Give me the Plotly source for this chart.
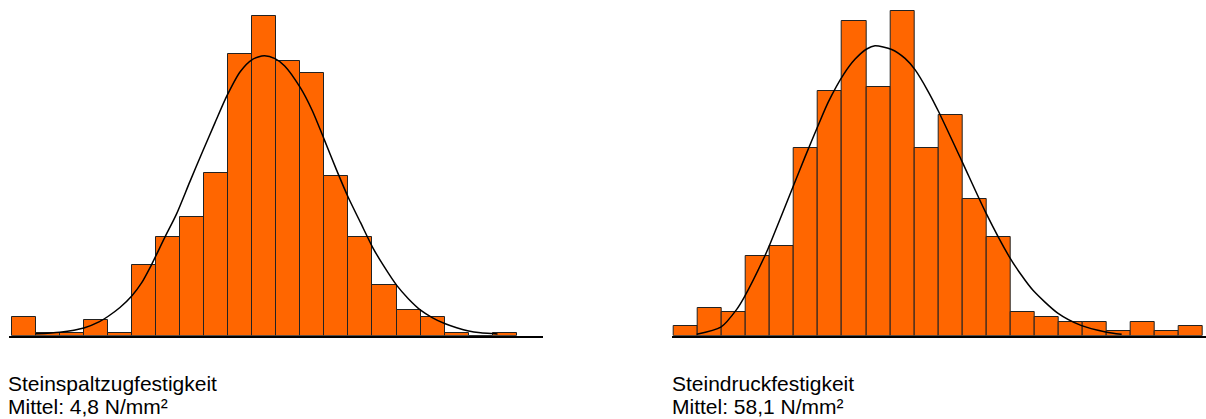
import plotly.graph_objects as go

# Steinspaltzugfestigkeit: histogram (bin width 0.2 N/mm²) and fitted density curve
spalt_bin_start = 2.7
spalt_bin_width = 0.2
spalt_counts = [6, 1, 1, 5, 1, 22, 31, 37, 51, 88, 100, 86, 82, 50, 31, 16, 8, 6, 1, 0, 1]
spalt_curve_x = [2.9, 3.1, 3.3, 3.43, 3.5, 3.6, 3.7, 3.78, 3.86, 3.97, 4.07, 4.18, 4.29,
                 4.39, 4.49, 4.6, 4.7, 4.8, 4.89, 4.97, 5.1, 5.2, 5.3, 5.4, 5.5, 5.6,
                 5.7, 5.8, 5.9, 6.0, 6.1, 6.2, 6.3, 6.4, 6.5, 6.6, 6.7, 6.74]
spalt_curve_y = [0.6, 1.1, 2.4, 4.4, 6.0, 8.8, 12.5, 16.5, 22.0, 30.5, 38.0, 48.0, 57.8,
                 66.5, 75.0, 82.5, 86.3, 87.5, 86.6, 84.3, 77.5, 70.3, 61.2, 51.9, 43.1,
                 35.4, 27.7, 21.4, 15.8, 11.5, 8.0, 5.6, 3.8, 2.5, 1.5, 0.95, 0.65, 0.55]
spalt_title = "Steinspaltzugfestigkeit"
spalt_mean = "Mittel: 4,8 N/mm²"

# Steindruckfestigkeit: histogram (bin width 2 N/mm²) and fitted density curve
druck_bin_start = 41.5
druck_bin_width = 2.0
druck_counts = [2, 6, 5, 17, 19, 40, 52, 67, 53, 69, 40, 47, 29, 21, 5, 4, 3, 3, 1, 3, 1, 2]
druck_curve_x = [43.39, 45.40, 46.72, 47.35, 49.07, 49.51, 51.55, 52.40, 53.54, 54.34,
                 55.62, 56.56, 57.54, 58.23, 59.62, 60.73, 61.56, 62.67, 63.50, 65.45,
                 67.41, 69.36, 70.44, 71.40, 73.44, 75.37, 77.43, 78.76]
druck_curve_y = [0.3, 1.8, 5.6, 8.2, 17.0, 19.6, 32.6, 38.0, 45.0, 49.7, 55.6, 58.8, 61.0,
                 61.7, 60.9, 59.0, 56.6, 51.9, 47.8, 37.2, 26.4, 17.0, 12.8, 9.6, 4.8,
                 2.2, 0.8, 0.3]
druck_title = "Steindruckfestigkeit"
druck_mean = "Mittel: 58,1 N/mm²"

BAR_COLOR = "#FF6600"
EDGE_COLOR = "#222222"
FONT = "Arial, Liberation Sans, Helvetica, sans-serif"


def centers(start, width, n):
    return [start + width * (i + 0.5) for i in range(n)]


fig = go.Figure()

fig.add_trace(go.Bar(
    x=centers(spalt_bin_start, spalt_bin_width, len(spalt_counts)),
    y=spalt_counts, width=spalt_bin_width,
    marker=dict(color=BAR_COLOR, line=dict(color=EDGE_COLOR, width=1)),
    xaxis="x", yaxis="y", showlegend=False, hoverinfo="skip",
))
fig.add_trace(go.Scatter(
    x=spalt_curve_x, y=spalt_curve_y, mode="lines",
    line=dict(color="black", width=1.5, shape="spline", smoothing=0.7),
    xaxis="x", yaxis="y", showlegend=False, hoverinfo="skip",
))
fig.add_trace(go.Bar(
    x=centers(druck_bin_start, druck_bin_width, len(druck_counts)),
    y=druck_counts, width=druck_bin_width,
    marker=dict(color=BAR_COLOR, line=dict(color=EDGE_COLOR, width=1)),
    xaxis="x2", yaxis="y2", showlegend=False, hoverinfo="skip",
))
fig.add_trace(go.Scatter(
    x=druck_curve_x, y=druck_curve_y, mode="lines",
    line=dict(color="black", width=1.5, shape="spline", smoothing=0.7),
    xaxis="x2", yaxis="y2", showlegend=False, hoverinfo="skip",
))

W, H = 1206, 419
base_frac = (H - 335.7) / H

xaxis_common = dict(showgrid=False, zeroline=False, showticklabels=False, ticks="",
                    showline=True, linecolor="black", linewidth=2, fixedrange=True)
yaxis_common = dict(visible=False, showgrid=False, zeroline=False, fixedrange=True)

fig.update_layout(
    width=W, height=H,
    margin=dict(l=0, r=0, t=0, b=0),
    paper_bgcolor="white", plot_bgcolor="white",
    bargap=0,
    xaxis=dict(domain=[9 / W, 543 / W], range=[2.6775, 7.118], **xaxis_common),
    yaxis=dict(domain=[base_frac, 1.0], range=[0, 335.7 / 3.2], anchor="x", **yaxis_common),
    xaxis2=dict(domain=[671.7 / W, 1.0], range=[41.31, 85.78], anchor="y2", **xaxis_common),
    yaxis2=dict(domain=[base_frac, 1.0], range=[0, 335.7 / 4.7], anchor="x2", **yaxis_common),
    font=dict(family=FONT, color="black"),
)

labels = [
    (6 / W, 383.3, spalt_title),
    (6 / W, 406.2, spalt_mean),
    (670 / W, 383.3, druck_title),
    (670 / W, 406.2, druck_mean),
]
for x, ypix, text in labels:
    fig.add_annotation(
        x=x, y=(H - ypix) / H, xref="paper", yref="paper",
        xanchor="left", yanchor="middle", showarrow=False,
        text=text, font=dict(size=21, family=FONT, color="black"),
    )

fig.write_html("out.html")
